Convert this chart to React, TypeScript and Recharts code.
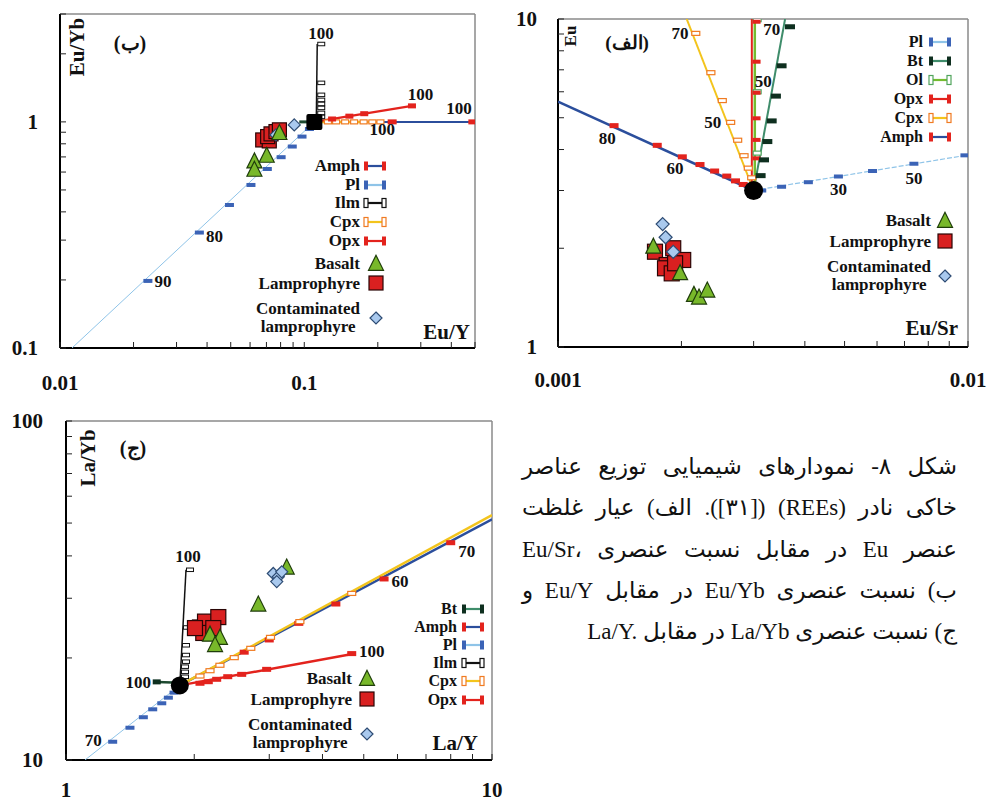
import React from 'react';
import { ScatterChart, Scatter, XAxis, YAxis, ReferenceLine } from 'recharts';

const SERIF = "'Liberation Serif', 'Times New Roman', serif";
const C = {
  plLine: '#8fc4e8', plMark: '#3b63b6', amphLine: '#2b4e9c', red: '#e3231d',
  cpxLine: '#f3c41c', cpxMark: '#f07b22', ilm: '#111111', btLine: '#3f8d6b', btMark: '#0e2f1f',
  olLine: '#74bc2f', olMark: '#52a55e', tri: '#78b82a', triS: '#1f3d0b', sq: '#d92020', sqS: '#2a0505',
  dia: '#a9c9ee', diaS: '#2d4b73',
};

// ================= Panel ب : Eu/Yb vs Eu/Y =================
const bXTicks = [0.01, 0.02, 0.03, 0.04, 0.05, 0.06, 0.07, 0.08, 0.09, 0.1, 0.2, 0.3, 0.4, 0.5];
const bYTicks = [0.1, 0.2, 0.3, 0.4, 0.5, 0.6, 0.7, 0.8, 0.9, 1, 2, 3];
const bXLabels = [0.01, 0.1];
const bYLabels = [0.1, 1];
const bStart = [{ x: 0.11, y: 1.0 }];
const bPlLine = [{ x: 0.11, y: 1.0 }, { x: 0.0112, y: 0.1 }];
const bPlMarks = [
  { x: 0.105, y: 0.93 }, { x: 0.0979, y: 0.861 }, { x: 0.0893, y: 0.778 }, { x: 0.0804, y: 0.698 },
  { x: 0.0706, y: 0.619 }, { x: 0.0605, y: 0.526 }, { x: 0.0494, y: 0.429 }, { x: 0.0372, y: 0.324 },
  { x: 0.0229, y: 0.198 },
];
const bAmphLine = [{ x: 0.11, y: 1.0 }, { x: 0.49, y: 1.0 }];
const bAmphMarks = [{ x: 0.229, y: 1.0 }, { x: 0.49, y: 1.0 }];
const bCpxLine = [{ x: 0.11, y: 1.0 }, { x: 0.2, y: 1.0 }];
const bCpxMarks = [
  { x: 0.125, y: 1.0 }, { x: 0.135, y: 1.0 }, { x: 0.147, y: 1.0 }, { x: 0.16, y: 1.0 },
  { x: 0.175, y: 1.0 }, { x: 0.19, y: 1.0 }, { x: 0.205, y: 1.0 },
];
const bOpxLine = [{ x: 0.11, y: 1.0 }, { x: 0.276, y: 1.177 }];
const bOpxMarks = [{ x: 0.13, y: 1.03 }, { x: 0.153, y: 1.06 }, { x: 0.176, y: 1.087 }, { x: 0.276, y: 1.177 }];
const bIlmLine = [{ x: 0.112, y: 1.0 }, { x: 0.113, y: 2.21 }];
const bIlmMarks = [
  { x: 0.113, y: 1.052 }, { x: 0.113, y: 1.096 }, { x: 0.113, y: 1.153 }, { x: 0.113, y: 1.201 },
  { x: 0.113, y: 1.251 }, { x: 0.113, y: 1.317 }, { x: 0.113, y: 1.488 }, { x: 0.113, y: 2.21 },
];
const bBtLine = [{ x: 0.0954, y: 1.0 }, { x: 0.11, y: 1.0 }];
const bBasalt = [{ x: 0.0625, y: 0.667 }, { x: 0.0625, y: 0.613 }, { x: 0.0702, y: 0.707 }, { x: 0.0791, y: 0.891 }];
const bLamp = [
  { x: 0.0676, y: 0.832 }, { x: 0.0719, y: 0.824 }, { x: 0.0708, y: 0.861 }, { x: 0.0731, y: 0.885 },
  { x: 0.0766, y: 0.906 }, { x: 0.0791, y: 0.922 },
];
const bCont = [{ x: 0.091, y: 0.97 }, { x: 0.0766, y: 0.876 }];
const bNotes = [
  { x: 0.117, y: 2.47, t: '100' }, { x: 0.299, y: 1.317, t: '100' }, { x: 0.43, y: 1.15, t: '100' },
  { x: 0.2087, y: 0.922, t: '100' }, { x: 0.0429, y: 0.311, t: '80' }, { x: 0.0264, y: 0.1965, t: '90' },
];

// ================= Panel الف : Eu vs Eu/Sr =================
const aXTicks = [0.001, 0.002, 0.003, 0.004, 0.005, 0.006, 0.007, 0.008, 0.009, 0.01];
const aYTicks = [1, 2, 3, 4, 5, 6, 7, 8, 9, 10];
const aXLabels = [0.001, 0.01];
const aYLabels = [1, 10];
const aStart = [{ x: 0.003, y: 3.0 }];
const aAmphLine = [{ x: 0.003, y: 3.0 }, { x: 0.001, y: 5.6 }];
const aAmphMarks = [
  { x: 0.00137, y: 4.73 }, { x: 0.001746, y: 4.12 }, { x: 0.00201, y: 3.8 }, { x: 0.00222, y: 3.6 },
  { x: 0.00241, y: 3.44 }, { x: 0.00258, y: 3.32 }, { x: 0.00271, y: 3.21 }, { x: 0.00283, y: 3.13 },
];
const aCpxLine = [{ x: 0.003, y: 3.0 }, { x: 0.00206, y: 10 }];
const aCpxMarks = [
  { x: 0.002168, y: 9.04 }, { x: 0.00236, y: 6.86 }, { x: 0.002516, y: 5.64 }, { x: 0.002637, y: 4.84 },
  { x: 0.002743, y: 4.27 }, { x: 0.002843, y: 3.83 }, { x: 0.002912, y: 3.51 }, { x: 0.002968, y: 3.28 },
];
const aOpxLine = [{ x: 0.00297, y: 3.0 }, { x: 0.00297, y: 10 }];
const aOpxMarks = [
  { x: 0.00305, y: 9.81 }, { x: 0.00305, y: 7.41 }, { x: 0.00305, y: 5.96 }, { x: 0.00305, y: 4.98 },
  { x: 0.00305, y: 4.28 }, { x: 0.00305, y: 3.76 },
];
const aOlLine = [{ x: 0.00302, y: 3.0 }, { x: 0.00302, y: 10 }];
const aOlMarks = [{ x: 0.00306, y: 9.95 }, { x: 0.00306, y: 6.0 }, { x: 0.00306, y: 3.9 }];
const aBtLine = [{ x: 0.003, y: 3.0 }, { x: 0.00358, y: 10 }];
const aBtMarks = [
  { x: 0.00368, y: 9.47 }, { x: 0.00351, y: 7.2 }, { x: 0.0034, y: 5.82 }, { x: 0.00332, y: 4.89 },
  { x: 0.00324, y: 4.23 }, { x: 0.00318, y: 3.72 }, { x: 0.00312, y: 3.33 },
];
const aPlLine = [{ x: 0.003, y: 3.0 }, { x: 0.01, y: 3.85 }];
const aPlMarks = [
  { x: 0.00314, y: 3.0 }, { x: 0.00351, y: 3.08 }, { x: 0.00408, y: 3.18 }, { x: 0.00483, y: 3.31 },
  { x: 0.00585, y: 3.44 }, { x: 0.00738, y: 3.62 }, { x: 0.00983, y: 3.84 },
];
const aBasalt = [
  { x: 0.001708, y: 2.02 }, { x: 0.001985, y: 1.677 }, { x: 0.002146, y: 1.44 }, { x: 0.002208, y: 1.413 },
  { x: 0.002313, y: 1.484 },
];
const aLamp = [
  { x: 0.001724, y: 1.952 }, { x: 0.00191, y: 2.0 }, { x: 0.00202, y: 1.842 }, { x: 0.001841, y: 1.778 },
  { x: 0.001824, y: 1.738 }, { x: 0.001894, y: 1.677 }, { x: 0.00193, y: 1.8 },
];
const aCont = [{ x: 0.0018, y: 2.37 }, { x: 0.00183, y: 2.16 }, { x: 0.00191, y: 1.95 }];
const aNotes = [
  { x: 0.001985, y: 9.04, t: '70' }, { x: 0.00332, y: 9.26, t: '70' }, { x: 0.003167, y: 6.47, t: '50' },
  { x: 0.002384, y: 4.83, t: '50' }, { x: 0.001319, y: 4.33, t: '80' }, { x: 0.00193, y: 3.51, t: '60' },
  { x: 0.00483, y: 3.03, t: '30' }, { x: 0.00738, y: 3.27, t: '50' },
];

// ================= Panel ج : La/Yb vs La/Y =================
const cXTicks = [1, 2, 3, 4, 5, 6, 7, 8, 9, 10];
const cYTicks = [10, 20, 30, 40, 50, 60, 70, 80, 90, 100];
const cXLabels = [1, 10];
const cYLabels = [10, 100];
const cStart = [{ x: 1.85, y: 16.6 }];
const cPlLine = [{ x: 1.85, y: 16.6 }, { x: 1.108, y: 10 }];
const cPlMarks = [
  { x: 1.287, y: 11.32 }, { x: 1.413, y: 12.45 }, { x: 1.519, y: 13.37 }, { x: 1.598, y: 14.11 },
  { x: 1.678, y: 14.7 }, { x: 1.739, y: 15.27 }, { x: 1.793, y: 15.8 },
];
const cAmphLine = [{ x: 1.85, y: 16.6 }, { x: 10, y: 51.3 }];
const cAmphMarks = [
  { x: 2.62, y: 20.8 }, { x: 3.0, y: 22.6 }, { x: 3.52, y: 25.3 }, { x: 4.3, y: 28.85 },
  { x: 5.58, y: 34.2 }, { x: 8.0, y: 43.75 },
];
const cCpxLine = [{ x: 1.85, y: 16.6 }, { x: 10, y: 52.8 }];
const cCpxMarks = [
  { x: 2.063, y: 17.69 }, { x: 2.178, y: 18.34 }, { x: 2.298, y: 19.03 }, { x: 2.483, y: 20.04 },
  { x: 2.715, y: 21.35 }, { x: 3.02, y: 23.0 }, { x: 3.54, y: 25.6 }, { x: 4.685, y: 31.0 },
];
const cOpxLine = [{ x: 1.85, y: 16.6 }, { x: 4.77, y: 20.6 }];
const cOpxMarks = [
  { x: 2.063, y: 16.84 }, { x: 2.158, y: 17.02 }, { x: 2.258, y: 17.3 }, { x: 2.397, y: 17.61 },
  { x: 2.585, y: 17.89 }, { x: 2.958, y: 18.51 }, { x: 4.685, y: 20.6 },
];
const cIlmLine = [{ x: 1.85, y: 16.6 }, { x: 1.913, y: 36.4 }];
const cIlmMarks = [
  { x: 1.862, y: 17.6 }, { x: 1.862, y: 18.2 }, { x: 1.862, y: 18.85 }, { x: 1.872, y: 19.5 },
  { x: 1.872, y: 20.4 }, { x: 1.872, y: 21.8 }, { x: 1.882, y: 24.6 }, { x: 1.913, y: 36.4 },
];
const cBtLine = [{ x: 1.633, y: 17.0 }, { x: 1.85, y: 16.9 }];
const cBtMarks = [{ x: 1.633, y: 17.0 }];
const cBasalt = [
  { x: 2.178, y: 23.4 }, { x: 2.298, y: 22.9 }, { x: 2.238, y: 21.8 }, { x: 2.828, y: 28.7 }, { x: 3.297, y: 36.9 },
];
const cLamp = [
  { x: 2.063, y: 24.6 }, { x: 2.12, y: 25.6 }, { x: 2.278, y: 26.4 }, { x: 2.1, y: 23.7 },
  { x: 2.217, y: 24.5 }, { x: 2.008, y: 24.5 },
];
const cCont = [{ x: 3.066, y: 35.5 }, { x: 3.15, y: 34.7 }, { x: 3.124, y: 33.6 }, { x: 3.21, y: 35.9 }];
const cNotes = [
  { x: 1.933, y: 39.8, t: '100' }, { x: 1.478, y: 16.9, t: '100' }, { x: 5.22, y: 20.9, t: '100' },
  { x: 8.72, y: 41.2, t: '70' }, { x: 6.08, y: 33.6, t: '60' }, { x: 1.159, y: 11.4, t: '70' },
];

// ================= caption =================
const captionLines = [
  'شکل ۸- نمودارهای شیمیایی توزیع عناصر',
  'خاکی نادر (REEs) ([۳۱]). الف) عیار غلظت',
  'عنصر Eu در مقابل  نسبت عنصری Eu/Sr،\u200E',
  'ب) نسبت عنصری Eu/Yb در مقابل Eu/Y و',
  'ج) نسبت عنصری La/Yb در مقابل La/Y.\u200E',
];
const captionY = [467, 508, 550, 591, 632];

// ================= helpers =================
const noShape = () => <g />;

function xTick(labels: number[], off: number, size: number) {
  return (p: any) => {
    const v = p.payload.value;
    const major = labels.indexOf(v) >= 0;
    return (
      <g>
        <line x1={p.x} x2={p.x} y1={p.y} y2={p.y - 6} stroke="#222" strokeWidth={1} />
        {major ? (
          <text x={p.x} y={p.y + off} textAnchor="middle" dominantBaseline="central" fontFamily={SERIF} fontWeight={700} fontSize={size} fill="#111">{String(v)}</text>
        ) : null}
      </g>
    );
  };
}
function yTick(labels: number[], off: number, size: number) {
  return (p: any) => {
    const v = p.payload.value;
    const major = labels.indexOf(v) >= 0;
    return (
      <g>
        <line x1={p.x} x2={p.x + 6} y1={p.y} y2={p.y} stroke="#222" strokeWidth={1} />
        {major ? (
          <text x={p.x - off} y={p.y} textAnchor="end" dominantBaseline="central" fontFamily={SERIF} fontWeight={700} fontSize={size} fill="#111">{String(v)}</text>
        ) : null}
      </g>
    );
  };
}

function triPts(cx: number, cy: number, s: number) {
  return `${cx},${cy - s * 0.58} ${cx - s / 2},${cy + s * 0.42} ${cx + s / 2},${cy + s * 0.42}`;
}
function diaPts(cx: number, cy: number, s: number) {
  return `${cx},${cy - s / 2} ${cx + s / 2},${cy} ${cx},${cy + s / 2} ${cx - s / 2},${cy}`;
}

function renderLayer(l: any, i: number) {
  if (l.kind === 'line') {
    return (
      <Scatter key={i} data={l.data} isAnimationActive={false} lineType="joint"
        line={{ stroke: l.stroke, strokeWidth: l.width, strokeDasharray: l.dash }} shape={noShape} />
    );
  }
  if (l.kind === 'mark') {
    return (
      <Scatter key={i} data={l.data} isAnimationActive={false}
        shape={(p: any) => (
          <rect x={p.cx - l.w / 2 + (l.dx || 0)} y={p.cy - l.h / 2} width={l.w} height={l.h}
            fill={l.fill} stroke={l.stroke || 'none'} strokeWidth={l.sw || 1} />
        )} />
    );
  }
  if (l.kind === 'tri') {
    return (
      <Scatter key={i} data={l.data} isAnimationActive={false}
        shape={(p: any) => <polygon points={triPts(p.cx, p.cy, l.s)} fill={C.tri} stroke={C.triS} strokeWidth={1.2} />} />
    );
  }
  if (l.kind === 'sq') {
    return (
      <Scatter key={i} data={l.data} isAnimationActive={false}
        shape={(p: any) => <rect x={p.cx - l.s / 2} y={p.cy - l.s / 2} width={l.s} height={l.s} fill={C.sq} stroke={C.sqS} strokeWidth={1.2} />} />
    );
  }
  if (l.kind === 'dia') {
    return (
      <Scatter key={i} data={l.data} isAnimationActive={false}
        shape={(p: any) => <polygon points={diaPts(p.cx, p.cy, l.s)} fill={C.dia} stroke={C.diaS} strokeWidth={1.2} />} />
    );
  }
  if (l.kind === 'start') {
    return (
      <Scatter key={i} data={l.data} isAnimationActive={false}
        shape={(p: any) => l.rect
          ? <rect x={p.cx - l.s / 2} y={p.cy - l.s / 2} width={l.s} height={l.s} rx={2} fill="#000" />
          : <circle cx={p.cx} cy={p.cy} r={l.s / 2} fill="#000" />} />
    );
  }
  if (l.kind === 'text') {
    return (
      <Scatter key={i} data={l.data} isAnimationActive={false}
        shape={(p: any) => (
          <text x={p.cx} y={p.cy} textAnchor="middle" dominantBaseline="central" fontFamily={SERIF}
            fontWeight={700} fontSize={l.size} fill="#111">{(p.payload && p.payload.t) || ''}</text>
        )} />
    );
  }
  return null;
}

function Plot(props: any) {
  const { w, h, margin, xDomain, yDomain, xTicks, yTicks, xLabels, yLabels, xH, yW, xOff, yOff, layers } = props;
  return (
    <ScatterChart width={w} height={h} margin={margin}>
      <XAxis type="number" dataKey="x" scale="log" domain={xDomain} allowDataOverflow ticks={xTicks} interval={0}
        tickLine={false} tickSize={0} tickMargin={0} axisLine={{ stroke: '#000', strokeWidth: 2 }} height={xH}
        tick={xTick(xLabels, xOff, 21)} />
      <YAxis type="number" dataKey="y" scale="log" domain={yDomain} allowDataOverflow ticks={yTicks} interval={0}
        tickLine={false} tickSize={0} tickMargin={0} axisLine={{ stroke: '#000', strokeWidth: 2 }} width={yW}
        tick={yTick(yLabels, yOff, 21)} />
      <ReferenceLine y={yDomain[1]} stroke="#8a8a8a" strokeWidth={1.5} />
      <ReferenceLine x={xDomain[1]} stroke="#8a8a8a" strokeWidth={1.5} />
      {layers.map(renderLayer)}
    </ScatterChart>
  );
}

// ---------- layers ----------
const bLayers = [
  { kind: 'line', data: bPlLine, stroke: C.plLine, width: 1 },
  { kind: 'line', data: bAmphLine, stroke: C.amphLine, width: 2 },
  { kind: 'line', data: bCpxLine, stroke: C.cpxLine, width: 2.5 },
  { kind: 'line', data: bOpxLine, stroke: C.red, width: 2.5 },
  { kind: 'line', data: bBtLine, stroke: '#1d4a30', width: 3 },
  { kind: 'line', data: bIlmLine, stroke: C.ilm, width: 1.5 },
  { kind: 'mark', data: bPlMarks, w: 9, h: 4, fill: C.plMark },
  { kind: 'mark', data: bAmphMarks, w: 9, h: 5, fill: C.red },
  { kind: 'mark', data: bCpxMarks, w: 7, h: 4, fill: '#fff', stroke: C.cpxMark, sw: 1.2 },
  { kind: 'mark', data: bOpxMarks, w: 8, h: 5, fill: C.red },
  { kind: 'mark', data: bIlmMarks, w: 7, h: 3.5, fill: '#fff', stroke: C.ilm, sw: 1, dx: 4 },
  { kind: 'sq', data: bLamp, s: 14 },
  { kind: 'dia', data: bCont, s: 12 },
  { kind: 'tri', data: bBasalt, s: 15 },
  { kind: 'start', data: bStart, s: 16, rect: true },
  { kind: 'text', data: bNotes, size: 17 },
];
const aLayers = [
  { kind: 'line', data: aPlLine, stroke: C.plLine, width: 1.2, dash: '5 2' },
  { kind: 'line', data: aAmphLine, stroke: C.amphLine, width: 2.5 },
  { kind: 'line', data: aCpxLine, stroke: C.cpxLine, width: 2 },
  { kind: 'line', data: aBtLine, stroke: C.btLine, width: 2 },
  { kind: 'line', data: aOpxLine, stroke: C.red, width: 2 },
  { kind: 'line', data: aOlLine, stroke: C.olLine, width: 2.5 },
  { kind: 'mark', data: aPlMarks, w: 9, h: 4, fill: C.plMark },
  { kind: 'mark', data: aAmphMarks, w: 9, h: 5, fill: C.red },
  { kind: 'mark', data: aCpxMarks, w: 8, h: 4, fill: '#fff', stroke: C.cpxMark, sw: 1.2 },
  { kind: 'mark', data: aOlMarks, w: 8, h: 4, fill: '#fff', stroke: C.olMark, sw: 1.2 },
  { kind: 'mark', data: aOpxMarks, w: 8, h: 4, fill: C.red },
  { kind: 'mark', data: aBtMarks, w: 10, h: 5, fill: C.btMark },
  { kind: 'sq', data: aLamp, s: 15 },
  { kind: 'tri', data: aBasalt, s: 15 },
  { kind: 'dia', data: aCont, s: 13 },
  { kind: 'start', data: aStart, s: 19 },
  { kind: 'text', data: aNotes, size: 17 },
];
const cLayers = [
  { kind: 'line', data: cPlLine, stroke: C.plLine, width: 1 },
  { kind: 'line', data: cAmphLine, stroke: C.amphLine, width: 2.5 },
  { kind: 'line', data: cCpxLine, stroke: C.cpxLine, width: 2.5 },
  { kind: 'line', data: cOpxLine, stroke: C.red, width: 2.5 },
  { kind: 'line', data: cBtLine, stroke: '#1d4a30', width: 2.5 },
  { kind: 'line', data: cIlmLine, stroke: C.ilm, width: 1.5 },
  { kind: 'mark', data: cPlMarks, w: 9, h: 4, fill: C.plMark },
  { kind: 'mark', data: cAmphMarks, w: 9, h: 5, fill: C.red },
  { kind: 'mark', data: cCpxMarks, w: 8, h: 4, fill: '#fff', stroke: C.cpxMark, sw: 1.2 },
  { kind: 'mark', data: cOpxMarks, w: 9, h: 5, fill: C.red },
  { kind: 'mark', data: cBtMarks, w: 8, h: 5, fill: C.btMark },
  { kind: 'mark', data: cIlmMarks, w: 7, h: 3.5, fill: '#fff', stroke: C.ilm, sw: 1, dx: 4 },
  { kind: 'sq', data: cLamp, s: 15 },
  { kind: 'tri', data: cBasalt, s: 15 },
  { kind: 'dia', data: cCont, s: 12 },
  { kind: 'start', data: cStart, s: 18 },
  { kind: 'text', data: cNotes, size: 17 },
];

// ---------- HTML overlays ----------
function Txt(props: any) {
  const { x, y, size = 17, align = 'right', children, rotate = false, family = SERIF, lh } = props;
  const style: any = {
    position: 'absolute', top: y, fontSize: size, fontWeight: 700, fontFamily: family, lineHeight: `${lh || size}px`,
    whiteSpace: 'nowrap', color: '#111',
  };
  if (rotate) {
    style.left = x; style.transform = 'translate(-50%, -50%) rotate(-90deg)';
  } else if (align === 'right') {
    style.right = 987 - x; style.transform = 'translateY(-50%)';
  } else {
    style.left = x; style.transform = 'translate(-50%, -50%)';
  }
  return <div style={style}>{children}</div>;
}

function LineIcon(props: any) {
  const { x, y, line, cap, hollow } = props;
  return (
    <svg width={24} height={12} style={{ position: 'absolute', left: x - 12, top: y - 6 }}>
      <line x1={3} y1={6} x2={21} y2={6} stroke={line} strokeWidth={2.2} />
      <rect x={1} y={1.5} width={4} height={9} fill={hollow ? '#fff' : cap} stroke={cap} strokeWidth={hollow ? 1.2 : 0} />
      <rect x={19} y={1.5} width={4} height={9} fill={hollow ? '#fff' : cap} stroke={cap} strokeWidth={hollow ? 1.2 : 0} />
    </svg>
  );
}
function SymIcon(props: any) {
  const { x, y, kind } = props;
  return (
    <svg width={20} height={20} style={{ position: 'absolute', left: x - 10, top: y - 10 }}>
      {kind === 'tri' ? <polygon points={triPts(10, 11, 15)} fill={C.tri} stroke={C.triS} strokeWidth={1.2} /> : null}
      {kind === 'sq' ? <rect x={3} y={3} width={14} height={14} fill={C.sq} stroke={C.sqS} strokeWidth={1.2} /> : null}
      {kind === 'dia' ? <polygon points={diaPts(10, 10, 12)} fill={C.dia} stroke={C.diaS} strokeWidth={1.2} /> : null}
    </svg>
  );
}

function MineralLegend(props: any) {
  const { items, right, iconX, size = 17 } = props;
  return (
    <>
      {items.map((it: any, i: number) => (
        <React.Fragment key={i}>
          <Txt x={right} y={it.y} size={size} lh={14}>{it.t}</Txt>
          <LineIcon x={iconX} y={it.y} line={it.line} cap={it.cap} hollow={it.hollow} />
        </React.Fragment>
      ))}
    </>
  );
}
function SampleLegend(props: any) {
  const { right, symX, yB, yL, yC } = props;
  return (
    <>
      <Txt x={right} y={yB} size={17} lh={15}>Basalt</Txt>
      <SymIcon x={symX} y={yB} kind="tri" />
      <Txt x={right} y={yL} size={17} lh={15}>Lamprophyre</Txt>
      <SymIcon x={symX} y={yL} kind="sq" />
      <div style={{ position: 'absolute', right: 987 - right, top: yC, transform: 'translateY(-50%)', textAlign: 'center',
        fontFamily: SERIF, fontWeight: 700, fontSize: 17, lineHeight: '18px', color: '#111' }}>
        Contaminated<br />lamprophyre
      </div>
      <SymIcon x={symX} y={yC} kind="dia" />
    </>
  );
}

const legB = [
  { t: 'Amph', y: 166, line: C.amphLine, cap: C.red },
  { t: 'Pl', y: 185, line: C.plLine, cap: C.plMark },
  { t: 'Ilm', y: 203, line: C.ilm, cap: C.ilm, hollow: true },
  { t: 'Cpx', y: 222, line: C.cpxLine, cap: C.cpxMark, hollow: true },
  { t: 'Opx', y: 241, line: C.red, cap: C.red },
];
const legA = [
  { t: 'Pl', y: 42, line: C.plLine, cap: C.plMark },
  { t: 'Bt', y: 61, line: C.btLine, cap: C.btMark },
  { t: 'Ol', y: 80, line: C.olLine, cap: C.olMark, hollow: true },
  { t: 'Opx', y: 99, line: C.red, cap: C.red },
  { t: 'Cpx', y: 118, line: C.cpxLine, cap: C.cpxMark, hollow: true },
  { t: 'Amph', y: 137, line: C.amphLine, cap: C.red },
];
const legC = [
  { t: 'Bt', y: 609, line: C.btLine, cap: C.btMark },
  { t: 'Amph', y: 627, line: C.amphLine, cap: C.red },
  { t: 'Pl', y: 645, line: C.plLine, cap: C.plMark },
  { t: 'Ilm', y: 663, line: C.ilm, cap: C.ilm, hollow: true },
  { t: 'Cpx', y: 681, line: C.cpxLine, cap: C.cpxMark, hollow: true },
  { t: 'Opx', y: 700, line: C.red, cap: C.red },
];

export default function App() {
  return (
    <div style={{ position: 'absolute', left: 0, top: 0, width: 987, height: 803, background: '#fff', overflow: 'hidden', fontFamily: SERIF }}>
      <div style={{ position: 'absolute', left: 0, top: 0 }}>
        <Plot w={487} h={400} margin={{ top: 14, right: 12, bottom: 0, left: 0 }} xDomain={[0.01, 0.5]} yDomain={[0.1, 3]}
          xTicks={bXTicks} yTicks={bYTicks} xLabels={bXLabels} yLabels={bYLabels} xH={52} yW={60} xOff={35} yOff={22} layers={bLayers} />
      </div>
      <div style={{ position: 'absolute', left: 490, top: 0 }}>
        <Plot w={497} h={400} margin={{ top: 19, right: 19, bottom: 0, left: 0 }} xDomain={[0.001, 0.01]} yDomain={[1, 10]}
          xTicks={aXTicks} yTicks={aYTicks} xLabels={aXLabels} yLabels={aYLabels} xH={53} yW={68} xOff={33} yOff={21} layers={aLayers} />
      </div>
      <div style={{ position: 'absolute', left: 0, top: 400 }}>
        <Plot w={515} h={403} margin={{ top: 21, right: 23, bottom: 0, left: 0 }} xDomain={[1, 10]} yDomain={[10, 100]}
          xTicks={cXTicks} yTicks={cYTicks} xLabels={cXLabels} yLabels={cYLabels} xH={43} yW={66} xOff={30} yOff={23} layers={cLayers} />
      </div>

      {/* panel ب overlays */}
      <Txt x={130} y={43} size={20} align="center">(ب)</Txt>
      <Txt x={77} y={47} size={21} rotate>Eu/Yb</Txt>
      <Txt x={470} y={332} size={21}>Eu/Y</Txt>
      <MineralLegend items={legB} right={360} iconX={375} />
      <SampleLegend right={360} symX={376} yB={263} yL={283} yC={318} />

      {/* panel الف overlays */}
      <Txt x={627} y={42} size={19} align="center">(الف)</Txt>
      <Txt x={570} y={36} size={17} rotate>Eu</Txt>
      <Txt x={958} y={328} size={21}>Eu/Sr</Txt>
      <MineralLegend items={legA} right={923} iconX={940} size={16} />
      <SampleLegend right={931} symX={945} yB={220} yL={241} yC={276} />

      {/* panel ج overlays */}
      <Txt x={133} y={448} size={20} align="center">(ج)</Txt>
      <Txt x={88} y={458} size={21} rotate>La/Yb</Txt>
      <Txt x={478} y={743} size={21}>La/Y</Txt>
      <MineralLegend items={legC} right={457} iconX={473} size={16} />
      <SampleLegend right={352} symX={367} yB={678} yL={699} yC={734} />

      {/* caption */}
      {captionLines.map((line, i) => (
        <div key={i} dir="rtl" style={{
          position: 'absolute', left: 522, width: 435, top: captionY[i], transform: 'translateY(-50%)',
          fontFamily: "'Liberation Serif', 'DejaVu Sans', serif", fontSize: 23, lineHeight: '30px', color: '#111',
          whiteSpace: 'nowrap', textAlign: i < captionLines.length - 1 ? 'justify' : 'right',
          textAlignLast: i < captionLines.length - 1 ? 'justify' : 'right',
        } as any}>{line}</div>
      ))}
    </div>
  );
}
